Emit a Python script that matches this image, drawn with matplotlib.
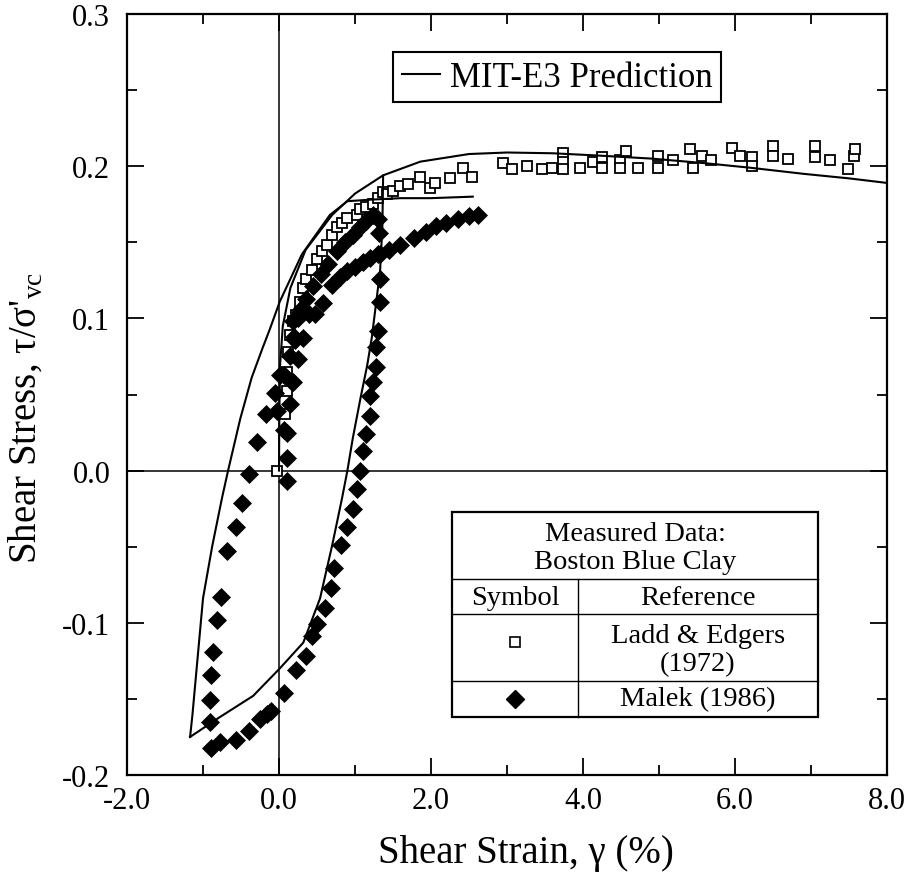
import matplotlib
matplotlib.use("Agg")
import matplotlib.pyplot as plt
from matplotlib.lines import Line2D
from matplotlib.patches import Rectangle
from matplotlib.ticker import MultipleLocator, FormatStrFormatter

plt.rcParams["font.family"] = ["Liberation Serif", "DejaVu Serif"]
plt.rcParams["mathtext.fontset"] = "custom"
plt.rcParams["mathtext.rm"] = "Liberation Serif"

# MIT-E3 prediction: monotonic loading branch
pred_mono_x = [0.0, 0.005, 0.015, 0.05, 0.15, 0.35, 0.7, 1.0, 1.37, 1.86, 2.5, 3.0,
               3.6, 4.2, 4.9, 5.6, 6.2, 6.9, 7.5, 8.0]
pred_mono_y = [0.0, 0.04, 0.07, 0.095, 0.12, 0.145, 0.168, 0.182, 0.194, 0.203,
               0.208, 0.209, 0.2085, 0.207, 0.205, 0.202, 0.199, 0.195, 0.192, 0.189]

# MIT-E3 prediction: unloading branch
pred_unload_x = [1.37, 1.36, 1.33, 1.22, 1.16, 1.07, 0.97, 0.90, 0.83, 0.70, 0.54,
                 0.32, 0.01, -0.34, -0.78, -1.17]
pred_unload_y = [0.194, 0.16, 0.131, 0.087, 0.069, 0.047, 0.021, 0.0, -0.018, -0.049,
                 -0.084, -0.113, -0.130, -0.148, -0.162, -0.175]

# MIT-E3 prediction: reloading branch
pred_reload_x = [-1.17, -1.14, -1.08, -1.0, -0.88, -0.75, -0.67, -0.51, -0.36, -0.22,
                 -0.12, 0.01, 0.3, 0.67, 0.9, 1.2, 1.6, 2.0, 2.55]
pred_reload_y = [-0.175, -0.161, -0.128, -0.084, -0.050, -0.018, 0.0, 0.034, 0.061,
                 0.080, 0.093, 0.111, 0.142, 0.168, 0.177, 0.178, 0.179, 0.179, 0.180]

# Ladd & Edgers (1972) measured data
ladd_x = [-0.03, 0.08, 0.10, 0.11, 0.12, 0.14, 0.19, 0.23, 0.28, 0.32, 0.36, 0.43, 0.50,
          0.57, 0.63, 0.70, 0.76, 0.83, 0.89, 1.02, 1.07, 1.15, 1.24, 1.30, 1.37, 1.42,
          1.50, 1.59, 1.70, 1.86, 1.99, 2.05, 2.25, 2.42, 2.54, 2.95, 3.06, 3.26, 3.46,
          3.59, 3.74, 3.74, 3.74, 3.96, 4.13, 4.25, 4.25, 4.49, 4.49, 4.57, 4.73, 4.99,
          4.99, 5.19, 5.41, 5.45, 5.56, 5.69, 5.96, 6.07, 6.22, 6.22, 6.50, 6.50, 6.70,
          7.05, 7.05, 7.25, 7.49, 7.56, 7.58]
ladd_y = [0.0, 0.037, 0.052, 0.065, 0.078, 0.089, 0.098, 0.102, 0.111, 0.120, 0.126,
          0.132, 0.139, 0.144, 0.148, 0.155, 0.160, 0.163, 0.166, 0.168, 0.172, 0.173,
          0.175, 0.179, 0.183, 0.182, 0.184, 0.187, 0.188, 0.193, 0.186, 0.189, 0.192,
          0.199, 0.193, 0.202, 0.198, 0.200, 0.198, 0.199, 0.209, 0.203, 0.198, 0.199,
          0.203, 0.206, 0.199, 0.204, 0.199, 0.210, 0.199, 0.207, 0.199, 0.204, 0.211,
          0.199, 0.207, 0.204, 0.212, 0.207, 0.206, 0.200, 0.213, 0.207, 0.205, 0.213,
          0.206, 0.204, 0.198, 0.207, 0.211]

# Malek (1986) measured data: loading, unloading and reloading
malek_x = [0.11, 0.10, 0.11, 0.14, 0.17, 0.20, 0.25, 0.30, 0.36, 0.45, 0.55, 0.65, 0.76,
           0.87, 0.97, 1.06, 1.15, 1.24, 1.30,
           1.32, 1.33, 1.33, 1.33, 1.30, 1.28, 1.28, 1.24, 1.20, 1.20, 1.15, 1.10, 1.07,
           1.03, 0.97, 0.89, 0.82, 0.73, 0.68, 0.60, 0.50, 0.44, 0.36, 0.22, 0.06, -0.10,
           -0.16, -0.25, -0.39, -0.56, -0.78, -0.89,
           -0.91, -0.91, -0.89, -0.87, -0.81, -0.76, -0.68, -0.57, -0.49, -0.39, -0.29,
           -0.17, -0.05, -0.03, 0.06, 0.01, 0.06, 0.19, 0.15, 0.25, 0.21, 0.32, 0.19, 0.28,
           0.40, 0.47, 0.58, 0.70, 0.80, 0.90, 1.00, 1.10, 1.20, 1.30, 1.45, 1.59, 1.77,
           1.94, 2.07, 2.20, 2.35, 2.50, 2.62]
malek_y = [-0.007, 0.008, 0.025, 0.044, 0.058, 0.088, 0.100, 0.107, 0.113, 0.121, 0.129,
           0.136, 0.144, 0.150, 0.155, 0.160, 0.164, 0.168, 0.165,
           0.156, 0.142, 0.126, 0.111, 0.092, 0.081, 0.068, 0.058, 0.049, 0.036, 0.024,
           0.013, 0.0, -0.012, -0.025, -0.037, -0.049, -0.064, -0.077, -0.090, -0.101,
           -0.109, -0.122, -0.131, -0.146, -0.158, -0.160, -0.163, -0.171, -0.177,
           -0.178, -0.182,
           -0.165, -0.151, -0.134, -0.119, -0.098, -0.083, -0.053, -0.037, -0.021, -0.002,
           0.019, 0.0375, 0.051, 0.039, 0.0265, 0.063, 0.063, 0.058, 0.075, 0.073, 0.086,
           0.087, 0.098, 0.104, 0.103, 0.103, 0.110, 0.122, 0.127, 0.131, 0.134, 0.137,
           0.140, 0.142, 0.145, 0.148, 0.153, 0.157, 0.161, 0.163, 0.165, 0.167, 0.168]

x_ticks = [-2.0, 0.0, 2.0, 4.0, 6.0, 8.0]
y_ticks = [-0.2, -0.1, 0.0, 0.1, 0.2, 0.3]

fig = plt.figure(figsize=(9.22, 8.78), dpi=100)
ax = fig.add_axes([127 / 922, 1 - 776 / 878, 760 / 922, 761 / 878])

ax.axvline(0, color="k", lw=1.1, zorder=2)
ax.axhline(0, color="k", lw=1.1, zorder=2)

ax.plot(ladd_x, ladd_y, ls="none", marker="s", ms=7.5, mfc="white", mec="k",
        mew=1.3, zorder=3)
ax.plot(malek_x, malek_y, ls="none", marker="D", ms=9.3, mfc="k", mec="k",
        mew=0.5, zorder=3)

for px, py in [(pred_mono_x, pred_mono_y), (pred_unload_x, pred_unload_y),
               (pred_reload_x, pred_reload_y)]:
    ax.plot(px, py, color="k", lw=1.5, zorder=4)

ax.set_xlim(-2.0, 8.0)
ax.set_ylim(-0.2, 0.3)
ax.set_xticks(x_ticks)
ax.set_yticks(y_ticks)
ax.xaxis.set_minor_locator(MultipleLocator(1.0))
ax.yaxis.set_minor_locator(MultipleLocator(0.05))
ax.xaxis.set_major_formatter(FormatStrFormatter("%.1f"))
ax.yaxis.set_major_formatter(FormatStrFormatter("%.1f"))
ax.tick_params(which="both", direction="in", top=True, right=True, width=1.3,
               labelsize=22)
ax.tick_params(which="major", length=12)
ax.tick_params(which="minor", length=7)
ax.tick_params(axis="y", which="major", pad=12)
ax.tick_params(axis="x", which="major", pad=8)
for s in ax.spines.values():
    s.set_linewidth(1.6)

ax.set_xlabel("Shear Strain, γ (%)", fontsize=28)
ax.xaxis.set_label_coords(0.525, -0.078)
ax.set_ylabel("Shear Stress, τ/σ'$_{\\rm vc}$", fontsize=28)
ax.yaxis.set_label_coords(-0.108, 0.47)

leg = ax.legend(handles=[Line2D([], [], color="k", lw=1.5)],
                labels=["MIT-E3 Prediction"], loc="center",
                bbox_to_anchor=(0.566, 0.917), frameon=True, fancybox=False,
                edgecolor="k", framealpha=1, fontsize=25, handlelength=1.1,
                handletextpad=0.3, borderpad=0.25)
leg.get_frame().set_linewidth(1.5)

# Measured-data key table
tx0, tx1, ty0, ty1 = 0.4276, 0.9092, 0.0762, 0.3456
tcol = 0.5934
ax.add_patch(Rectangle((tx0, ty0), tx1 - tx0, ty1 - ty0, transform=ax.transAxes,
                       fc="white", ec="k", lw=1.6, zorder=5))
for yy in [0.2576, 0.2116, 0.1235]:
    ax.add_line(Line2D([tx0, tx1], [yy, yy], transform=ax.transAxes, color="k",
                       lw=1.0, zorder=6))
ax.add_line(Line2D([tcol, tcol], [ty0, 0.2576], transform=ax.transAxes, color="k",
                   lw=1.0, zorder=6))
tk = dict(transform=ax.transAxes, ha="center", va="center", fontsize=20.5, zorder=7)
xc_all = (tx0 + tx1) / 2
xc_sym = (tx0 + tcol) / 2
xc_ref = (tcol + tx1) / 2
ax.text(xc_all, 0.3167, "Measured Data:", **tk)
ax.text(xc_all, 0.2799, "Boston Blue Clay", **tk)
ax.text(xc_sym, 0.2339, "Symbol", **tk)
ax.text(xc_ref, 0.2339, "Reference", **tk)
ax.text(xc_ref, 0.1827, "Ladd & Edgers", **tk)
ax.text(xc_ref, 0.1459, "(1972)", **tk)
ax.text(xc_ref, 0.0999, "Malek (1986)", **tk)
ax.add_line(Line2D([xc_sym], [0.1748], transform=ax.transAxes, ls="none", marker="s",
                   ms=7, mfc="white", mec="k", mew=1.2, zorder=7))
ax.add_line(Line2D([xc_sym], [0.0999], transform=ax.transAxes, ls="none", marker="D",
                   ms=9, mfc="k", mec="k", zorder=7))

fig.savefig("out.png", dpi=100)
